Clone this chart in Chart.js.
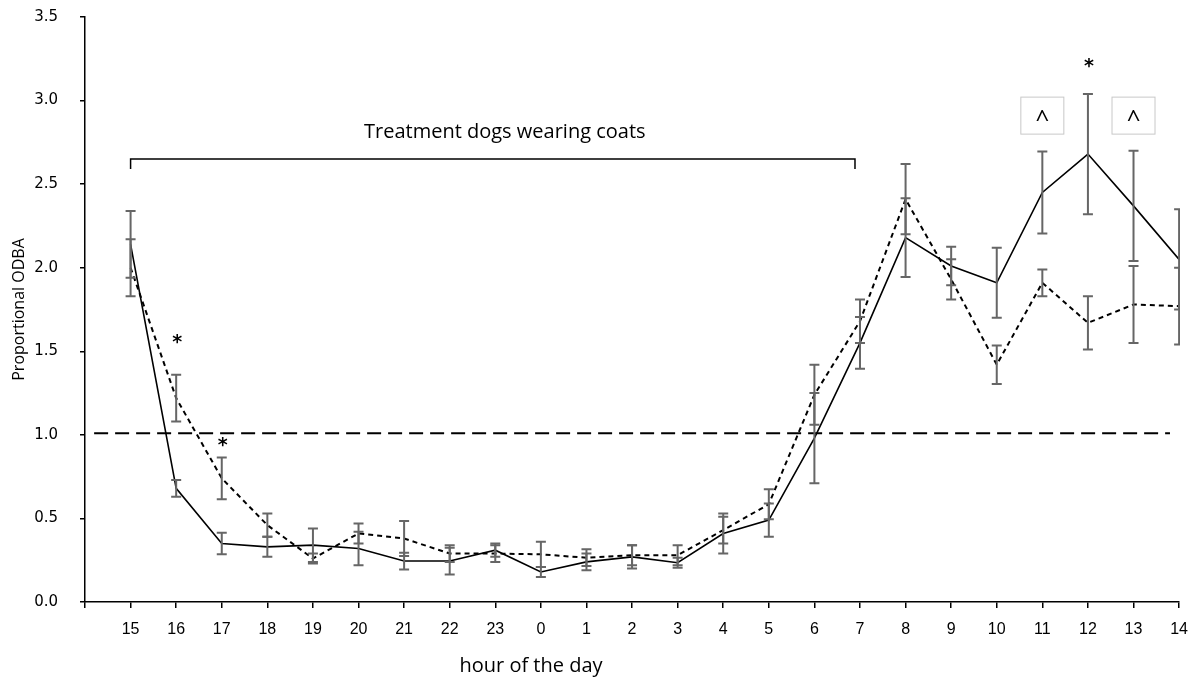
<!DOCTYPE html>
<html>
<head>
<meta charset="utf-8">
<script src="https://cdn.jsdelivr.net/npm/chart.js@4"></script>
<style>
  html, body { margin: 0; padding: 0; background: #fff; }
  #wrap { width: 1200px; height: 677px; }
</style>
</head>
<body>
<div id="wrap"><canvas id="odbaChart" width="1200" height="677"></canvas></div>
<script>
// hour labels (positions 1..24 on the x scale)
const hours = [15, 16, 17, 18, 19, 20, 21, 22, 23, 0, 1, 2, 3, 4, 5, 6, 7, 8, 9, 10, 11, 12, 13, 14];

// solid line + its error bars
const solidMean = [2.14, 0.68, 0.35, 0.33, 0.34, 0.32, 0.245, 0.245, 0.31, 0.18, 0.24, 0.27, 0.235, 0.41, 0.49, 0.98, 1.55, 2.18, 2.01, 1.91, 2.45, 2.68, 2.37, 2.05];
const solidErr = [0.2, 0.05, 0.065, 0.06, 0.1, 0.1, 0.05, 0.08, 0.04, 0.03, 0.05, 0.07, 0.03, 0.12, 0.1, 0.27, 0.155, 0.235, 0.115, 0.21, 0.245, 0.36, 0.33, 0.3];

// dashed line + its error bars
const dashedMean = [2.0, 1.22, 0.74, 0.46, 0.26, 0.41, 0.38, 0.29, 0.29, 0.285, 0.265, 0.28, 0.28, 0.43, 0.585, 1.24, 1.68, 2.41, 1.93, 1.42, 1.91, 1.67, 1.78, 1.77];
const dashedErr = [0.17, 0.14, 0.125, 0.07, 0.03, 0.06, 0.105, 0.05, 0.05, 0.075, 0.05, 0.06, 0.06, 0.08, 0.09, 0.18, 0.13, 0.21, 0.12, 0.115, 0.08, 0.16, 0.23, 0.23];

// y ticks and the reference level
const yTicks = [0, 0.5, 1.0, 1.5, 2.0, 2.5, 3.0, 3.5];
const refLevel = 1.01;

// annotations (x = hour label, y = value)
const stars = [{ hour: 16, y: 1.57 }, { hour: 17, y: 0.95 }, { hour: 12, y: 3.22 }];
const carets = [{ hour: 11, y: 2.91 }, { hour: 13, y: 2.91 }];
const bracket = { from: 15, to: 7, y: 2.65, label: "Treatment dogs wearing coats" };

const posOf = (h) => hours.indexOf(h) + 1;
const toPoints = (arr) => arr.map((v, i) => ({ x: i + 1, y: v }));

const overlay = {
  id: "overlay",
  afterDatasetsDraw(chart) {
    const { ctx, chartArea, scales: { x, y } } = chart;

    // reference line
    ctx.save();
    ctx.strokeStyle = "#000";
    ctx.lineWidth = 2;
    ctx.setLineDash([14, 7]);
    ctx.beginPath();
    ctx.moveTo(x.getPixelForValue(0.2), y.getPixelForValue(refLevel));
    ctx.lineTo(x.getPixelForValue(23.8), y.getPixelForValue(refLevel));
    ctx.stroke();
    ctx.restore();

    // error bars
    ctx.save();
    ctx.beginPath();
    ctx.rect(chartArea.left, chartArea.top - 20, chartArea.right - chartArea.left + 1, chartArea.bottom - chartArea.top + 20);
    ctx.clip();
    ctx.strokeStyle = "#666";
    ctx.lineWidth = 2;
    const drawBars = (mean, err) => {
      mean.forEach((m, i) => {
        const px = x.getPixelForValue(i + 1);
        const top = y.getPixelForValue(m + err[i]);
        const bot = y.getPixelForValue(m - err[i]);
        ctx.beginPath();
        ctx.moveTo(px, top); ctx.lineTo(px, bot);
        ctx.moveTo(px - 5, top); ctx.lineTo(px + 5, top);
        ctx.moveTo(px - 5, bot); ctx.lineTo(px + 5, bot);
        ctx.stroke();
      });
    };
    drawBars(solidMean, solidErr);
    drawBars(dashedMean, dashedErr);
    ctx.restore();

    // bracket
    ctx.save();
    ctx.strokeStyle = "#000";
    ctx.lineWidth = 1.5;
    const bx1 = x.getPixelForValue(posOf(bracket.from));
    const bx2 = x.getPixelForValue(posOf(bracket.to)) - 5;
    const by = y.getPixelForValue(bracket.y);
    ctx.beginPath();
    ctx.moveTo(bx1, by + 10); ctx.lineTo(bx1, by); ctx.lineTo(bx2, by); ctx.lineTo(bx2, by + 10);
    ctx.stroke();
    ctx.fillStyle = "#000";
    ctx.font = "20px 'Open Sans'";
    ctx.textAlign = "center";
    ctx.textBaseline = "middle";
    ctx.fillText(bracket.label, (bx1 + bx2) / 2 + 12, by - 27);

    // asterisks
    ctx.font = "bold 19px 'DejaVu Sans'";
    stars.forEach((s) => {
      ctx.fillText("*", x.getPixelForValue(posOf(s.hour)) + 1, y.getPixelForValue(s.y) + 3);
    });

    // caret boxes
    ctx.strokeStyle = "#c8c8c8";
    ctx.lineWidth = 1;
    ctx.font = "24px 'Open Sans'";
    carets.forEach((c) => {
      const cx = x.getPixelForValue(posOf(c.hour));
      const cy = y.getPixelForValue(c.y);
      ctx.strokeRect(cx - 21.5, cy - 18.5, 43, 37);
      ctx.fillText("^", cx, cy + 5);
    });

    // x axis title
    ctx.font = "20px 'Open Sans'";
    ctx.fillText("hour of the day", 531, 666);
    ctx.restore();
  }
};

new Chart(document.getElementById("odbaChart"), {
  type: "line",
  data: {
    datasets: [
      {
        label: "solid",
        data: toPoints(solidMean),
        borderColor: "#000",
        borderWidth: 1.6,
        pointRadius: 0,
        tension: 0
      },
      {
        label: "dashed",
        data: toPoints(dashedMean),
        borderColor: "#000",
        borderWidth: 2,
        borderDash: [5, 4],
        pointRadius: 0,
        tension: 0
      }
    ]
  },
  options: {
    responsive: false,
    animation: false,
    layout: { padding: { top: 17, right: 15, bottom: 0, left: 0 } },
    plugins: {
      legend: { display: false },
      tooltip: { enabled: false }
    },
    scales: {
      x: {
        type: "linear",
        min: 0,
        max: 24,
        afterFit: (s) => { s.height = 75; },
        afterBuildTicks: (s) => { s.ticks = Array.from({ length: 25 }, (_, i) => ({ value: i })); },
        ticks: {
          autoSkip: false,
          maxRotation: 0,
          padding: 12,
          color: "#000",
          font: { family: "'Liberation Sans Narrow', 'Arial Narrow', 'Liberation Sans'", size: 16 },
          callback: (v) => (v >= 1 ? String(hours[v - 1]) : "")
        },
        grid: { drawOnChartArea: false, drawTicks: true, tickLength: 6, color: "#000", lineWidth: 1.5 },
        border: { color: "#000", width: 1.5 }
      },
      y: {
        min: 0,
        max: 3.5,
        afterFit: (s) => { s.width = 85; s.paddingTop = 0; s.paddingBottom = 0; },
        afterBuildTicks: (s) => { s.ticks = yTicks.map((v) => ({ value: v })); },
        ticks: {
          padding: 22,
          color: "#000",
          font: { family: "'DejaVu Sans'", size: 15 },
          callback: (v) => v.toFixed(1)
        },
        title: {
          display: true,
          text: "Proportional ODBA",
          color: "#000",
          font: { family: "'Open Sans'", size: 16 },
          padding: { top: 10, bottom: 0 }
        },
        grid: { drawOnChartArea: false, drawTicks: true, tickLength: 5, color: "#000", lineWidth: 1.5 },
        border: { color: "#000", width: 1.5 }
      }
    }
  },
  plugins: [overlay]
});
</script>
</body>
</html>
